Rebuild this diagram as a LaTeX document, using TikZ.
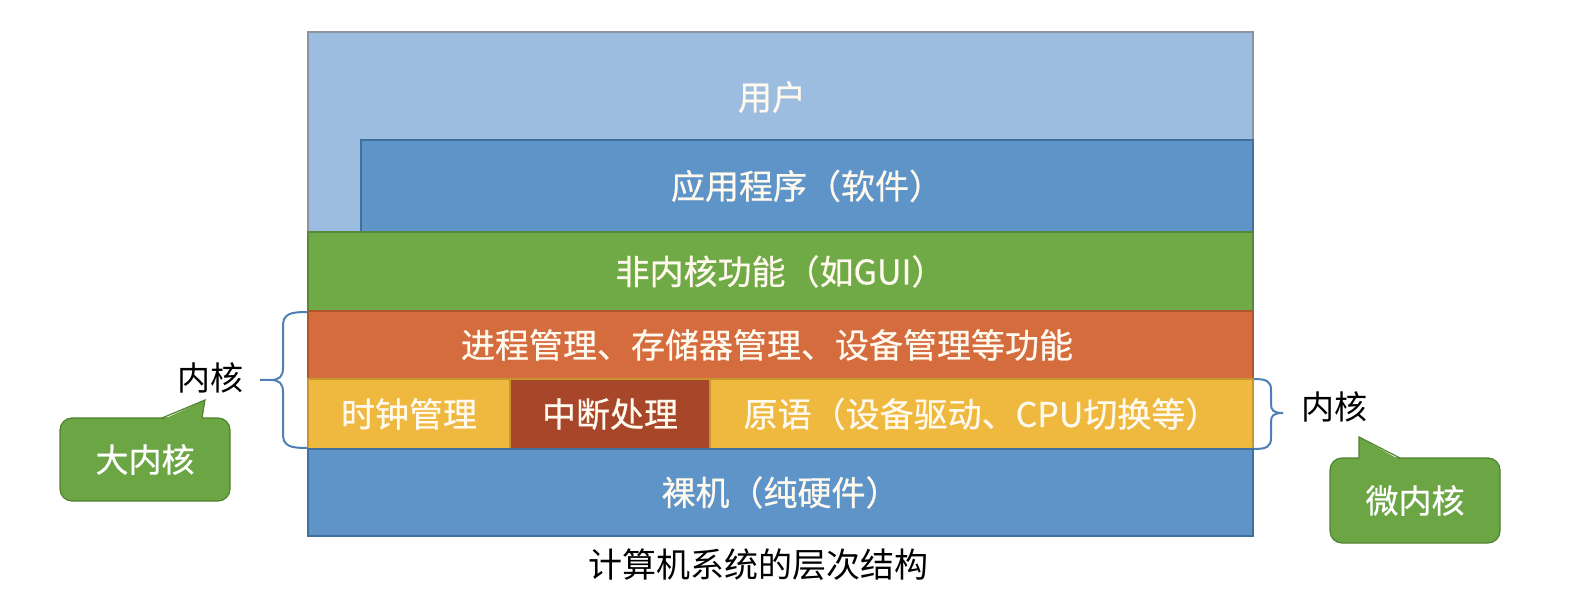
\documentclass[tikz,border=0pt]{standalone}
\usepackage{fontspec}
\setmainfont{Noto Sans CJK SC}
\newfontfamily\boxfont[FakeBold=0.6]{Noto Sans CJK SC}
\definecolor{userblue}{HTML}{9DBDE0}
\definecolor{userline}{HTML}{8C959F}
\definecolor{appblue}{HTML}{5E94C7}
\definecolor{appline}{HTML}{41709C}
\definecolor{kgreen}{HTML}{70AA47}
\definecolor{kgreenline}{HTML}{58883A}
\definecolor{korange}{HTML}{D56C3E}
\definecolor{korangeline}{HTML}{B0552C}
\definecolor{kyellow}{HTML}{EFB83F}
\definecolor{kyellowline}{HTML}{C8962C}
\definecolor{kred}{HTML}{A8462A}
\definecolor{callgreen}{HTML}{6BA544}
\definecolor{callline}{HTML}{50822F}
\definecolor{bracecol}{HTML}{4F7FB5}
\definecolor{softwhite}{HTML}{FFF9EE}
\begin{document}
\begin{tikzpicture}[x=1pt,y=-1pt,
  layer/.style={rectangle, inner sep=0pt, outer sep=0pt, line width=1.2pt, anchor=north west,
    text=softwhite, font=\boxfont\fontsize{34}{40}\selectfont, text height=28.2pt, text depth=2.4pt},
  txt/.style={inner sep=0pt, text=softwhite, font=\boxfont\fontsize{34}{40}\selectfont, text height=28.2pt, text depth=2.4pt},
  lbl/.style={inner sep=0pt, text=black, font=\fontsize{33}{38}\selectfont, text height=27.4pt, text depth=2.3pt},
  callbox/.style={rectangle, rounded corners=12pt, fill=callgreen, draw=callline, line width=1.2pt,
    inner sep=0pt, text=white, font=\boxfont\fontsize{33}{38}\selectfont, text height=27.4pt, text depth=2.3pt},
  bracestyle/.style={draw=bracecol, line width=2pt},
]
\useasboundingbox (0,0) rectangle (1593,609);
% layers
\node[layer, fill=userblue, draw=userline, minimum width=945pt, minimum height=200pt] (user) at (308,32) {};
\node[txt] (usertext) at (772,97) {用户};
\node[layer, fill=appblue, draw=appline, minimum width=892pt, minimum height=92pt] (app) at (361,140) {应用程序（软件）};
\node[layer, fill=kgreen, draw=kgreenline, minimum width=945pt, minimum height=79pt] (nonkernel) at (308,232) {非内核功能（如GUI）};
\node[layer, fill=korange, draw=korangeline, minimum width=945pt, minimum height=68pt] (mgmt) at (308,311) {};
\node[txt] (mgmttext) at (767,345) {进程管理、存储器管理、设备管理等功能};
\node[layer, fill=kyellow, draw=kyellowline, minimum width=202pt, minimum height=70pt] (clock) at (308,379) {时钟管理};
\node[layer, fill=kred, draw=kyellowline, minimum width=200pt, minimum height=70pt] (intr) at (510,379) {中断处理};
\node[layer, fill=kyellow, draw=kyellowline, minimum width=543pt, minimum height=70pt] (prim) at (710,379) {原语（设备驱动、CPU切换等）};
\node[layer, fill=appblue, draw=appline, minimum width=945pt, minimum height=87pt] (bare) at (308,449) {裸机（纯硬件）};
% caption
\node[inner sep=0pt, text=black, font=\fontsize{34}{40}\selectfont, text height=28.2pt, text depth=2.4pt] (caption) at (758,565) {计算机系统的层次结构};
% left brace
\coordinate (lbtop) at (307,312);
\coordinate (lbbot) at (307,448);
\coordinate (lbtip) at (260,380);
\draw[bracestyle] (lbtop) .. controls (290,312) and (283,314) .. (283,326) -- (283,368)
  .. controls (283,377) and (279,380) .. (270,380) -- (lbtip);
\draw[bracestyle] (lbbot) .. controls (290,448) and (283,446) .. (283,434) -- (283,392)
  .. controls (283,383) and (279,380) .. (270,380);
\node[lbl] (kernelL) at (210,378) {内核};
% right brace
\coordinate (rbtop) at (1254,379);
\coordinate (rbbot) at (1254,449);
\coordinate (rbtip) at (1283,413);
\draw[bracestyle] (rbtop) .. controls (1266,379) and (1271,381) .. (1271,390) -- (1271,404)
  .. controls (1271,410) and (1273,413) .. (rbtip);
\draw[bracestyle] (rbbot) .. controls (1266,449) and (1271,447) .. (1271,438) -- (1271,422)
  .. controls (1271,416) and (1273,413) .. (rbtip);
\node[lbl] (kernelR) at (1334,407) {内核};
% callout big kernel
\node[callbox, minimum width=170pt, minimum height=83pt] (bigk) at (145,459.5) {大内核};
\fill[callgreen] (162,420) -- (205,400) -- (202,420) -- cycle;
\draw[callline, line width=1.2pt, line join=miter] (162,418) -- (205,400) -- (202,418);
% callout micro kernel
\node[callbox, minimum width=170pt, minimum height=85pt] (microk) at (1415,500.5) {微内核};
\fill[callgreen] (1359,460) -- (1359,437) -- (1400,460) -- cycle;
\draw[callline, line width=1.2pt, line join=miter] (1359,458) -- (1359,437) -- (1400,458);
\end{tikzpicture}
\end{document}
